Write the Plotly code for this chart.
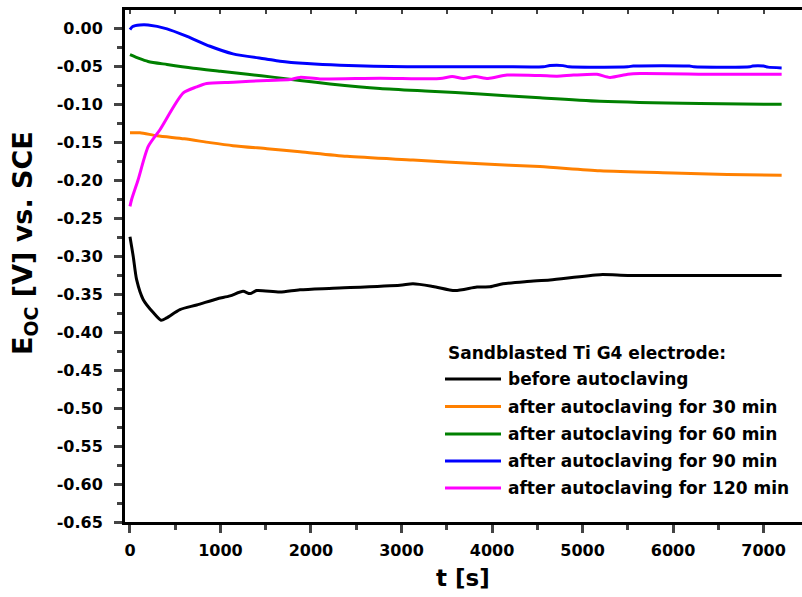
import plotly.graph_objects as go

# ---------------- data ----------------
t_before = [0, 36, 74, 147, 257, 343, 405, 552, 737, 958, 1105, 1249, 1326, 1400, 1657, 1878, 2243,
            2983, 3127, 3348, 3591, 3834, 3978, 4122, 4387, 4641, 5193, 5500, 6298, 7200]
e_before = [-0.274, -0.300, -0.331, -0.357, -0.374, -0.384, -0.381, -0.370, -0.364, -0.356, -0.352,
            -0.346, -0.349, -0.345, -0.347, -0.344, -0.342, -0.338, -0.336, -0.3395, -0.345, -0.3403,
            -0.340, -0.336, -0.333, -0.331, -0.324, -0.325, -0.325, -0.325]

t_30 = [0, 110, 300, 600, 884, 1138, 1514, 1878, 2398, 3127, 3867, 4530, 5193, 6000, 6600, 7200]
e_30 = [-0.137, -0.137, -0.141, -0.145, -0.150, -0.154, -0.158, -0.162, -0.168, -0.173, -0.178,
        -0.1816, -0.187, -0.190, -0.192, -0.193]

t_60 = [0, 100, 200, 409, 700, 1000, 1300, 1600, 1878, 2210, 2762, 3315, 3867, 4530, 5193, 6298, 7200]
e_60 = [-0.034, -0.039, -0.043, -0.047, -0.052, -0.056, -0.060, -0.064, -0.068, -0.0726, -0.0787,
        -0.0823, -0.0858, -0.091, -0.0955, -0.0985, -0.0995]

t_90 = [0, 30, 110, 200, 409, 630, 884, 1138, 1514, 1657, 1956, 2320, 3061, 3503, 4088, 4565, 4640,
        4785, 4850, 5500, 5560, 6180, 6230, 6850, 6880, 7000, 7050, 7200]
e_90 = [-0.001, 0.003, 0.005, 0.005, 0.000, -0.010, -0.023, -0.033, -0.040, -0.0427, -0.0458, -0.048,
        -0.050, -0.050, -0.050, -0.050, -0.0485, -0.0485, -0.050, -0.050, -0.049, -0.049, -0.050,
        -0.050, -0.049, -0.049, -0.0505, -0.0515]

t_120 = [0, 18, 90, 202, 331, 589, 737, 847, 1142, 1514, 1768, 1878, 2099, 2762, 3425, 3560, 3683,
         3812, 3956, 4166, 4530, 4718, 4900, 5160, 5304, 5500, 5635, 6500, 7200]
e_120 = [-0.234, -0.225, -0.199, -0.155, -0.133, -0.0845, -0.0765, -0.072, -0.0704, -0.068, -0.0669,
         -0.064, -0.066, -0.065, -0.0656, -0.0630, -0.0655, -0.0630, -0.0655, -0.061, -0.0616, -0.0625,
         -0.061, -0.060, -0.0640, -0.060, -0.059, -0.060, -0.060]

series_names = ["before autoclaving", "after autoclaving for 30 min", "after autoclaving for 60 min",
                "after autoclaving for 90 min", "after autoclaving for 120 min"]
series_colors = ["#000000", "#FF8000", "#008000", "#0000FF", "#FF00FF"]
series_t = [t_before, t_30, t_60, t_90, t_120]
series_e = [e_before, e_30, e_60, e_90, e_120]

y_ticks = [round(-0.65 + 0.05 * i, 2) for i in range(14)]
y_ticktext = ["%.2f" % v if v != 0 else "0.00" for v in y_ticks]
x_ticks = [0, 1000, 2000, 3000, 4000, 5000, 6000, 7000]
legend_title = "Sandblasted Ti G4 electrode:"

# ---------------- figure ----------------
W, H = 802, 597
ML, MR, MT, MB = 125, 0, 10, 75
FONT = "DejaVu Sans"

fig = go.Figure()
for name, col, t, e in zip(series_names, series_colors, series_t, series_e):
    fig.add_trace(go.Scatter(x=t, y=e, mode="lines", name=name,
                             line=dict(color=col, width=3, shape="spline", smoothing=0.7),
                             showlegend=False))

# invisible trace for top axis
fig.add_trace(go.Scatter(x=[0], y=[0], xaxis="x2", mode="markers",
                         marker=dict(opacity=0), showlegend=False, hoverinfo="skip"))

xr = [-55, 7425]
yr = [-0.65, 0.0248]

fig.update_layout(
    width=W, height=H,
    margin=dict(l=ML, r=MR, t=MT, b=MB),
    paper_bgcolor="white", plot_bgcolor="white",
    font=dict(family=FONT, color="black", size=16),
    xaxis=dict(range=xr, tickvals=x_ticks, ticks="outside", ticklen=8, tickwidth=2.5,
               showline=True, linewidth=3, linecolor="black", showgrid=False, zeroline=False,
               tickfont=dict(family=FONT, size=16, color="black", weight="bold"),
               ticklabelstandoff=4,
               minor=dict(ticks="outside", ticklen=5, tickwidth=2.5, dtick=500, tick0=0,
                          showgrid=False)),
    xaxis2=dict(range=xr, overlaying="x", side="top", ticks="inside", ticklen=4, tickwidth=2,
                dtick=500, tick0=0, showticklabels=False, showline=True, linewidth=3,
                linecolor="black", showgrid=False, zeroline=False),
    yaxis=dict(range=yr, tickvals=y_ticks, ticktext=y_ticktext, ticks="outside", ticklen=8,
               tickwidth=2.5, showline=True, linewidth=3, linecolor="black", showgrid=False,
               zeroline=False, ticklabelstandoff=8,
               tickfont=dict(family=FONT, size=16, color="black", weight="bold"),
               minor=dict(ticks="outside", ticklen=5, tickwidth=2.5, dtick=0.025, tick0=0,
                          showgrid=False)),
)

pw = W - ML - MR
ph = H - MT - MB


def px(xp):
    return (xp - ML) / pw


def py(yp):
    return (H - MB - yp) / ph


# axis titles
fig.add_annotation(text="<b>t [s]</b>", x=px(463), y=py(578), xref="paper", yref="paper",
                   showarrow=False, font=dict(family=FONT, size=23, color="black"),
                   xanchor="center", yanchor="middle")
fig.add_annotation(text="<b>E<sub>OC</sub> [V] vs. SCE</b>", x=px(24), y=py(243), xref="paper",
                   yref="paper", showarrow=False, textangle=-90,
                   font=dict(family=FONT, size=27, color="black"),
                   xanchor="center", yanchor="middle")

# legend (drawn manually)
fig.add_annotation(text="<b>" + legend_title + "</b>", x=px(446), y=py(353), xref="paper",
                   yref="paper", showarrow=False, xanchor="left", yanchor="middle",
                   font=dict(family=FONT, size=17, color="black"))
leg_y = [379, 406.5, 434, 461, 488]
for name, col, ly in zip(series_names, series_colors, leg_y):
    fig.add_shape(type="line", x0=px(445), x1=px(501), y0=py(ly), y1=py(ly), xref="paper",
                  yref="paper", line=dict(color=col, width=3))
    fig.add_annotation(text="<b>" + name + "</b>", x=px(506), y=py(ly), xref="paper",
                       yref="paper", showarrow=False, xanchor="left", yanchor="middle",
                       font=dict(family=FONT, size=17, color="black"))

fig.write_html("out.html")
